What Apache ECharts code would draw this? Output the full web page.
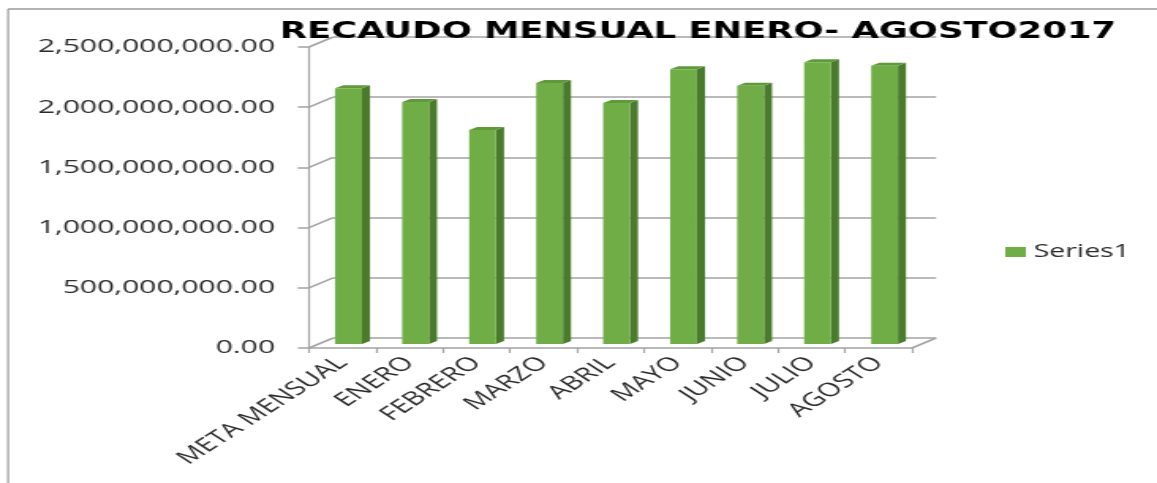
<!DOCTYPE html>
<html>
<head>
<meta charset="utf-8">
<script src="https://cdn.jsdelivr.net/npm/echarts@6/dist/echarts.min.js"></script>
<style>
html,body{margin:0;padding:0;background:#fff;overflow:hidden;}
#wrap{width:1157px;height:483px;overflow:hidden;position:relative;}
#chart{width:732px;height:483px;transform:scaleX(1.5806);transform-origin:0 0;}
</style>
</head>
<body>
<div id="wrap"><div id="chart"></div></div>
<script>
// ---- data ----
var titleText = 'RECAUDO MENSUAL ENERO- AGOSTO2017';
var seriesName = 'Series1';
var categories = ['META MENSUAL','ENERO','FEBRERO','MARZO','ABRIL','MAYO','JUNIO','JULIO','AGOSTO'];
var values = [2125000000, 2010000000, 1777000000, 2168000000, 2002000000, 2282000000, 2145000000, 2340000000, 2312000000];
var yTicks = [0, 500000000, 1000000000, 1500000000, 2000000000, 2500000000];
var yTickLabels = ['0.00','500,000,000.00','1,000,000,000.00','1,500,000,000.00','2,000,000,000.00','2,500,000,000.00'];

// ---- styles ----
var DEPTH_X = 15.2, DEPTH_Y = 10;
var FRONT = '#70AD47', SIDE = '#4A7A2C', TOPC = '#5E9A3A';
var GRIDC = '#A3A3A3';
var TXT = '#2b2b2b';
var FONT = 'Open Sans';

var frontGrid = {left: 195.5, right: 155, top: 47, bottom: 135};
var backGrid = {left: 195.5 + DEPTH_X, right: 155 - DEPTH_X, top: 47 - DEPTH_Y, bottom: 135 + DEPTH_Y};

var barData = values.map(function (v, i) { return [i, v]; });
var tickData = yTicks.map(function (v) { return [0, v]; });

function renderBar(params, api) {
  var i = api.value(0), v = api.value(1);
  var top = api.coord([i, v]);
  var base = api.coord([i, 0]);
  var band = api.size([1, 0])[0];
  var w = band * 0.40, ox = band * 0.09, oy = -4, dx = band * 0.12, dy = -3;
  var x0 = top[0] + ox - w / 2, x1 = x0 + w;
  var yT = top[1] + oy, yB = base[1] + oy;
  return {
    type: 'group',
    children: [
      {type: 'polygon', shape: {points: [[x1, yT], [x1 + dx, yT + dy], [x1 + dx, yB + dy], [x1, yB]]}, style: {fill: SIDE}},
      {type: 'polygon', shape: {points: [[x0, yT], [x0 + dx, yT + dy], [x1 + dx, yT + dy], [x1, yT]]}, style: {fill: TOPC}},
      {type: 'rect', shape: {x: x0, y: yT, width: w, height: yB - yT}, style: {fill: FRONT}}
    ]
  };
}

function renderDiag(params, api) {
  var v = api.value(1);
  var y = api.coord([0, v])[1];
  var cs = params.coordSys;
  var children = [
    {type: 'line', shape: {x1: cs.x, y1: y, x2: cs.x + DEPTH_X, y2: y - DEPTH_Y}, style: {stroke: GRIDC, lineWidth: 1.5}}
  ];
  if (v === 0) {
    children.push({type: 'line', shape: {x1: cs.x + cs.width, y1: y, x2: cs.x + cs.width + DEPTH_X, y2: y - DEPTH_Y}, style: {stroke: GRIDC, lineWidth: 1.5}});
  }
  return {type: 'group', children: children};
}

var chart = echarts.init(document.getElementById('chart'));
chart.setOption({
  animation: false,
  backgroundColor: '#fff',
  title: {
    text: titleText, left: 177, top: 21, padding: 0,
    textStyle: {fontFamily: 'DejaVu Sans', fontWeight: 'bold', fontSize: 22.4, color: '#000'}
  },
  legend: {
    data: [seriesName], left: 631, top: 238, icon: 'rect', itemWidth: 13, itemHeight: 10, itemGap: 5,
    textStyle: {fontFamily: FONT, fontSize: 18, color: TXT}
  },
  graphic: [
    {type: 'line', shape: {x1: 5.1, y1: 9, x2: 732, y2: 9}, style: {stroke: '#9a9a9a', lineWidth: 1.5}, z: 10},
    {type: 'line', shape: {x1: 5.1, y1: 9, x2: 5.1, y2: 483}, style: {stroke: '#9a9a9a', lineWidth: 1.2}, z: 10}
  ],
  grid: [
    Object.assign({}, backGrid),
    Object.assign({}, frontGrid)
  ],
  xAxis: [
    {gridIndex: 0, type: 'category', data: categories, show: false},
    {
      gridIndex: 1, type: 'category', data: categories, boundaryGap: true,
      axisLine: {show: true, lineStyle: {color: GRIDC, width: 1.5}},
      axisTick: {show: true, alignWithLabel: false, length: 5, lineStyle: {color: GRIDC, width: 1.2}},
      axisLabel: {rotate: 45, margin: 12, interval: 0, fontFamily: FONT, fontSize: 19, color: TXT},
      splitLine: {show: false}
    }
  ],
  yAxis: [
    {
      gridIndex: 0, type: 'value', min: 0, max: 2500000000, interval: 500000000,
      axisLine: {show: false}, axisTick: {show: false}, axisLabel: {show: false},
      splitLine: {show: true, lineStyle: {color: GRIDC, width: 1.5}}
    },
    {
      gridIndex: 1, type: 'value', min: 0, max: 2500000000, interval: 500000000,
      axisLine: {show: true, lineStyle: {color: GRIDC, width: 1.2}},
      axisTick: {show: true, length: 7, lineStyle: {color: GRIDC, width: 1.5}},
      axisLabel: {
        margin: 21.5, fontFamily: FONT, fontSize: 19, color: TXT,
        formatter: function (v) { var k = yTicks.indexOf(v); return k >= 0 ? yTickLabels[k] : ''; }
      },
      splitLine: {show: false}
    }
  ],
  series: [
    {
      type: 'custom', name: 'diag', xAxisIndex: 1, yAxisIndex: 1, data: tickData,
      renderItem: renderDiag, encode: {x: 0, y: 1}, silent: true, z: 1
    },
    {
      type: 'custom', name: seriesName, xAxisIndex: 1, yAxisIndex: 1, data: barData,
      renderItem: renderBar, encode: {x: 0, y: 1}, itemStyle: {color: FRONT}, z: 5
    }
  ]
});
</script>
</body>
</html>
